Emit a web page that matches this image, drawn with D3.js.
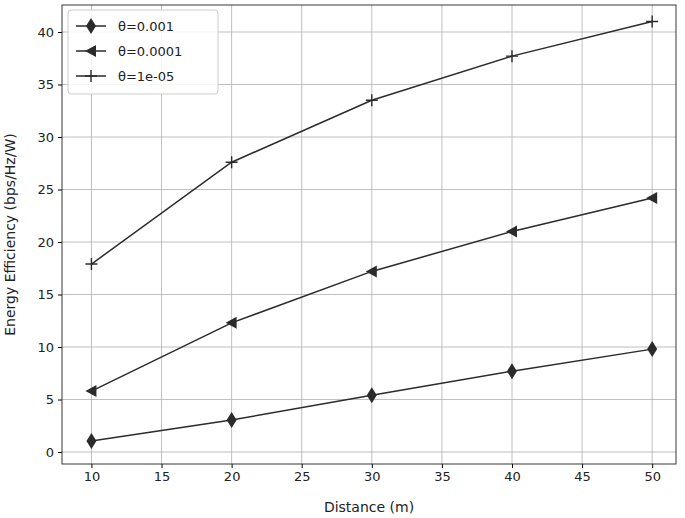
<!DOCTYPE html>
<html><head><meta charset="utf-8">
<script src="https://cdn.jsdelivr.net/npm/d3@7"></script>
<style>body{margin:0;background:#fff}text{font-family:"DejaVu Sans",sans-serif}</style>
</head><body>
<svg id="chart" width="685" height="518"></svg>
<script>
var distances = [10, 20, 30, 40, 50];
var labels = ["θ=0.001", "θ=0.0001", "θ=1e-05"];
var ee001 = [1.05, 3.05, 5.4, 7.7, 9.8];
var ee0001 = [5.8, 12.3, 17.2, 21.0, 24.2];
var ee00001 = [17.9, 27.6, 33.5, 37.7, 41.0];
var xTicks = [10, 15, 20, 25, 30, 35, 40, 45, 50];
var yTicks = [0, 5, 10, 15, 20, 25, 30, 35, 40];

var series = [
  {label: labels[0], values: ee001, marker: "diamond"},
  {label: labels[1], values: ee0001, marker: "left"},
  {label: labels[2], values: ee00001, marker: "plus"}
];

var svg = d3.select("#chart");
var m = {left: 62, right: 676, top: 5, bottom: 464};
var x = d3.scaleLinear().domain([7.9, 51.7]).range([m.left, m.right]);
var y = d3.scaleLinear().domain([-1.14, 42.57]).range([m.bottom, m.top]);
var col = "#2b2b2b";

// grid
svg.append("g").selectAll("line").data(xTicks).join("line")
  .attr("x1", d => x(d)).attr("x2", d => x(d)).attr("y1", m.top).attr("y2", m.bottom)
  .attr("stroke", "#b0b0b0").attr("stroke-width", 0.8);
svg.append("g").selectAll("line").data(yTicks).join("line")
  .attr("y1", d => y(d)).attr("y2", d => y(d)).attr("x1", m.left).attr("x2", m.right)
  .attr("stroke", "#b0b0b0").attr("stroke-width", 0.8);

var xa = svg.append("g").attr("transform", "translate(0," + m.bottom + ")")
  .call(d3.axisBottom(x).tickValues(xTicks).tickSize(4).tickPadding(4));
var ya = svg.append("g").attr("transform", "translate(" + m.left + ",0)")
  .call(d3.axisLeft(y).tickValues(yTicks).tickSize(4).tickPadding(4));
[xa, ya].forEach(function(a) {
  a.select(".domain").remove();
  a.selectAll("text").attr("font-size", 13).attr("fill", "#222");
});
svg.append("rect").attr("x", m.left).attr("y", m.top)
  .attr("width", m.right - m.left).attr("height", m.bottom - m.top)
  .attr("fill", "none").attr("stroke", "#222").attr("stroke-width", 0.9);

svg.append("text").attr("x", (m.left + m.right) / 2).attr("y", 512)
  .attr("text-anchor", "middle").attr("font-size", 14).attr("fill", "#222").text("Distance (m)");
svg.append("text").attr("transform", "translate(15," + ((m.top + m.bottom) / 2) + ") rotate(-90)")
  .attr("text-anchor", "middle").attr("font-size", 14).attr("fill", "#222").text("Energy Efficiency (bps/Hz/W)");

function drawMarker(g, type, cx, cy) {
  if (type === "diamond") {
    g.append("path").attr("d", "M" + cx + "," + (cy - 8) + "L" + (cx + 5) + "," + cy + "L" + cx + "," + (cy + 8) + "L" + (cx - 5) + "," + cy + "Z").attr("fill", col);
  } else if (type === "left") {
    g.append("path").attr("d", "M" + (cx - 6) + "," + cy + "L" + (cx + 5) + "," + (cy - 6) + "L" + (cx + 5) + "," + (cy + 6) + "Z").attr("fill", col);
  } else {
    g.append("path").attr("d", "M" + (cx - 6) + "," + cy + "H" + (cx + 6) + "M" + cx + "," + (cy - 6) + "V" + (cy + 6))
      .attr("stroke", col).attr("stroke-width", 1.4);
  }
}

var line = d3.line().x((d, i) => x(distances[i])).y(d => y(d));
series.forEach(function(s) {
  var g = svg.append("g");
  g.append("path").attr("d", line(s.values)).attr("fill", "none").attr("stroke", col).attr("stroke-width", 1.5);
  s.values.forEach(function(v, i) { drawMarker(g, s.marker, x(distances[i]), y(v)); });
});

// legend
var lg = svg.append("g");
lg.append("rect").attr("x", 68).attr("y", 10).attr("width", 150).attr("height", 84).attr("rx", 3)
  .attr("fill", "#fff").attr("fill-opacity", 0.85).attr("stroke", "#ccc");
series.forEach(function(s, i) {
  var yy = 26 + i * 25;
  lg.append("line").attr("x1", 76).attr("x2", 106).attr("y1", yy).attr("y2", yy).attr("stroke", col).attr("stroke-width", 1.5);
  drawMarker(lg, s.marker, 91, yy);
  lg.append("text").attr("x", 118).attr("y", yy + 5).attr("font-size", 13).attr("fill", "#222").text(s.label);
});
</script>
</body></html>
